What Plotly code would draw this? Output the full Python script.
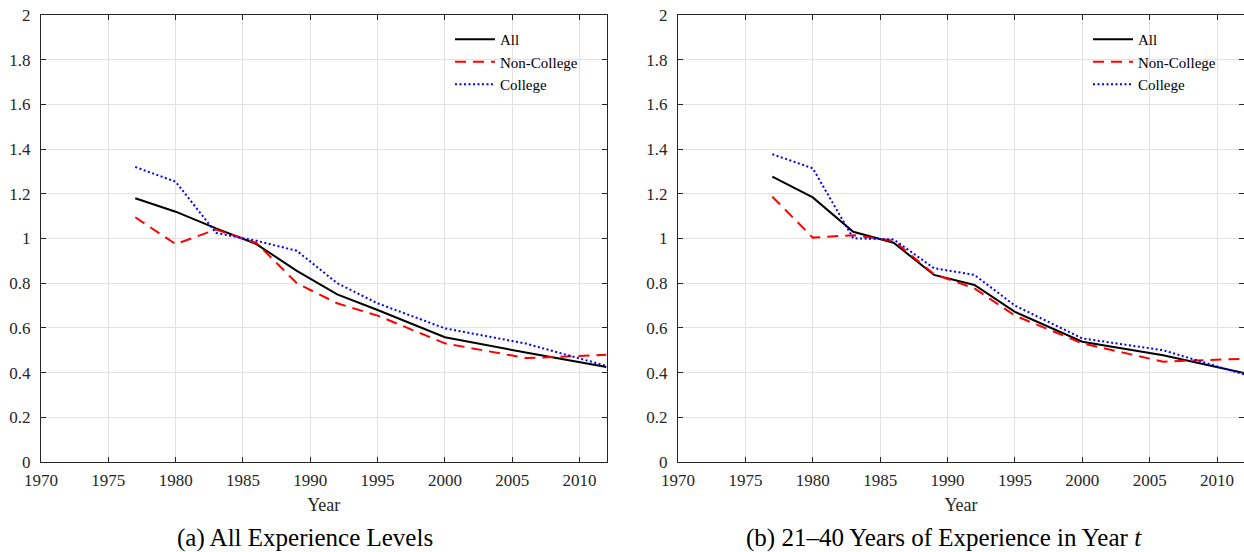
import plotly.graph_objects as go

years = [1977, 1980, 1983, 1986, 1989, 1992, 1995, 2000, 2006, 2012]

# Panel (a): All experience levels
a_all = [1.18, 1.12, 1.045, 0.975, 0.855, 0.75, 0.68, 0.558, 0.49, 0.425]
a_noncollege = [1.095, 0.975, 1.04, 0.98, 0.80, 0.71, 0.655, 0.531, 0.465, 0.48]
a_college = [1.32, 1.254, 1.025, 0.99, 0.945, 0.80, 0.71, 0.598, 0.53, 0.43]

# Panel (b): 21-40 years of experience
b_all = [1.277, 1.184, 1.03, 0.981, 0.837, 0.792, 0.672, 0.538, 0.478, 0.398]
b_noncollege = [1.187, 1.004, 1.015, 0.99, 0.84, 0.777, 0.655, 0.531, 0.449, 0.462]
b_college = [1.377, 1.314, 1.001, 0.996, 0.867, 0.837, 0.70, 0.553, 0.50, 0.392]

series_names = ["All", "Non-College", "College"]
x_ticks = [1970, 1975, 1980, 1985, 1990, 1995, 2000, 2005, 2010]
y_ticks = [0, 0.2, 0.4, 0.6, 0.8, 1, 1.2, 1.4, 1.6, 1.8, 2]
captions = ["(a) All Experience Levels", "(b) 21\u201340 Years of Experience in Year <i>t</i>"]
x_title = "Year"

W, H = 1244, 552
ML, MR, MT, MB = 41, 0, 15, 90
PW, PH = W - ML - MR, H - MT - MB
FONT = "Liberation Serif"
AXC = "#262626"

def px_x(p):
    return (p - ML) / PW

def px_y(p):
    return (H - MB - p) / PH

styles = [
    dict(color="black", width=2, dash="solid"),
    dict(color="#ff0000", width=2, dash="11px,7px"),
    dict(color="#0000ff", width=2, dash="2px,2.5px"),
]

fig = go.Figure()
panels = [
    ("x", "y", "legend", [a_all, a_noncollege, a_college]),
    ("x2", "y2", "legend2", [b_all, b_noncollege, b_college]),
]
for xa, ya, lg, data in panels:
    for name, vals, st in zip(series_names, data, styles):
        fig.add_trace(go.Scatter(
            x=years, y=vals, mode="lines", name=name, line=st,
            xaxis=xa, yaxis=ya, legend=lg, showlegend=True,
        ))

def xaxis(domain, anchor):
    return dict(
        domain=domain, anchor=anchor, range=[1970, 2012],
        tickmode="array", tickvals=x_ticks, ticktext=[str(t) for t in x_ticks],
        showgrid=True, gridcolor="#e2e2e2", gridwidth=1,
        showline=True, linecolor=AXC, linewidth=1, mirror="ticks",
        ticks="inside", ticklen=5, tickcolor=AXC, tickwidth=1,
        tickfont=dict(family=FONT, size=17, color=AXC), ticklabelstandoff=3,
        title=dict(text=x_title, font=dict(family=FONT, size=18, color=AXC), standoff=8),
        zeroline=False, fixedrange=True, automargin=False,
    )

def yaxis(domain, anchor):
    return dict(
        domain=domain, anchor=anchor, range=[0, 2],
        tickmode="array", tickvals=y_ticks, ticktext=[f"{v:g}" for v in y_ticks],
        showgrid=True, gridcolor="#e2e2e2", gridwidth=1,
        showline=True, linecolor=AXC, linewidth=1, mirror="ticks",
        ticks="inside", ticklen=5, tickcolor=AXC, tickwidth=1,
        tickfont=dict(family=FONT, size=17, color=AXC), ticklabelstandoff=6,
        zeroline=False, fixedrange=True, automargin=False,
    )

def legend(xpx):
    return dict(
        font=dict(family=FONT, size=15, color="black"),
        bgcolor="rgba(255,255,255,0)", borderwidth=0,
        xanchor="left", yanchor="top", x=px_x(xpx), y=px_y(23),
        xref="paper", yref="paper", itemwidth=40, tracegroupgap=0,
    )

fig.update_layout(
    width=W, height=H,
    margin=dict(l=ML, r=MR, t=MT, b=MB, autoexpand=False),
    paper_bgcolor="white", plot_bgcolor="white",
    xaxis=xaxis([0, px_x(606.5)], "y"), yaxis=yaxis([0, 1], "x"),
    xaxis2=xaxis([px_x(678), 1.0], "y2"), yaxis2=yaxis([0, 1], "x2"),
    legend=legend(450),
    legend2=legend(1088),
    annotations=[
        dict(text=captions[0], x=px_x(305), y=px_y(538), xref="paper", yref="paper",
             showarrow=False, xanchor="center", yanchor="middle",
             font=dict(family=FONT, size=25, color="black")),
        dict(text=captions[1], x=px_x(944), y=px_y(538), xref="paper", yref="paper",
             showarrow=False, xanchor="center", yanchor="middle",
             font=dict(family=FONT, size=25, color="black")),
    ],
)

fig.write_html(
    "out.html",
    config={"displayModeBar": False},
    post_script="document.body.style.margin='0';document.body.style.overflow='hidden';",
)
